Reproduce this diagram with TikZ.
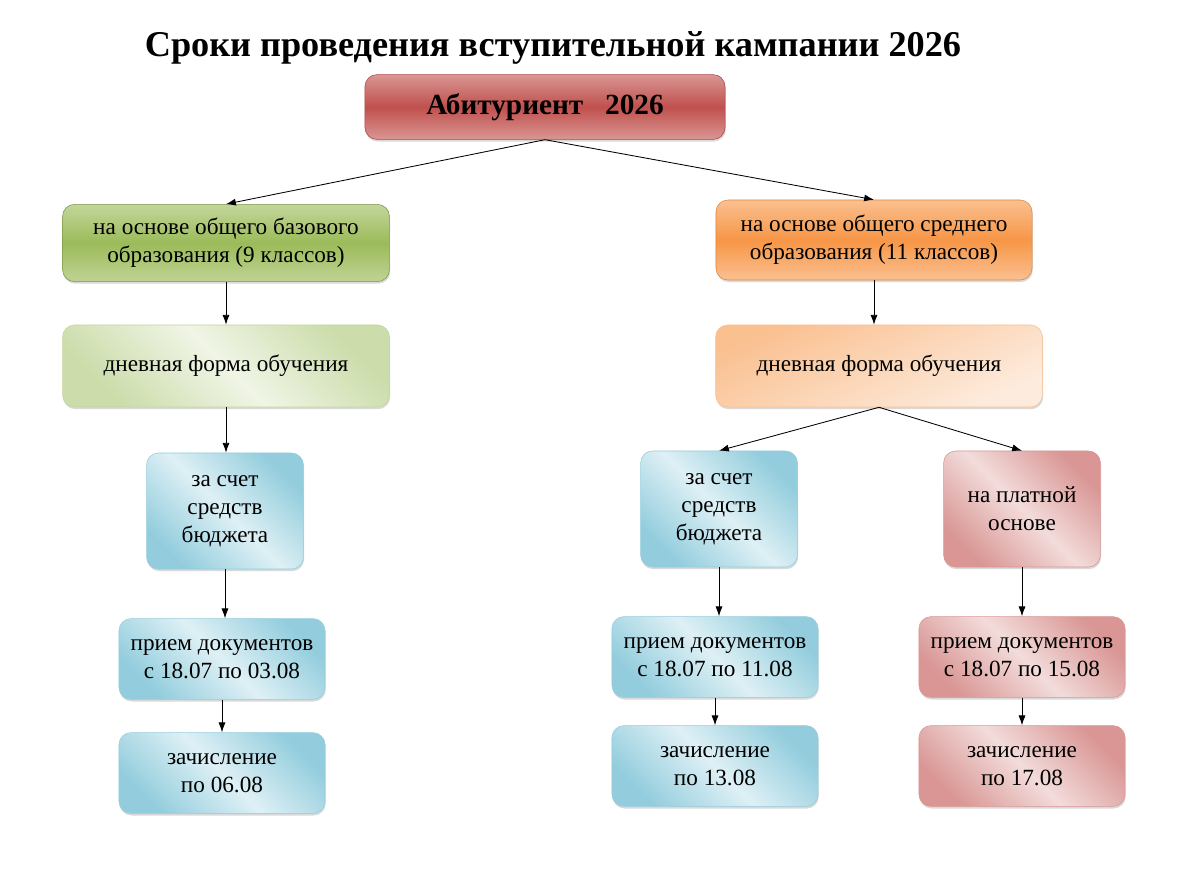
\documentclass[tikz,border=0pt]{standalone}
\usepackage{fontspec}
\setmainfont{Liberation Serif}
\usetikzlibrary{arrows.meta,shadows}
\definecolor{bordeaux}{RGB}{192, 80, 77}
\definecolor{rosewood}{RGB}{217, 150, 148}
\definecolor{blush}{RGB}{242, 220, 219}
\definecolor{olive}{RGB}{155, 187, 89}
\definecolor{pistachio}{RGB}{195, 214, 155}
\definecolor{mint}{RGB}{240, 245, 230}
\definecolor{tangerine}{RGB}{247, 150, 70}
\definecolor{apricot}{RGB}{250, 192, 144}
\definecolor{peach}{RGB}{253, 236, 222}
\definecolor{skyblue}{RGB}{147, 205, 221}
\definecolor{iceblue}{RGB}{222, 240, 245}

\tikzset{
  box/.style      = {rounded corners=0.3cm, align=center, font=\fontsize{16.5}{20}\selectfont,
                     drop shadow={shadow xshift=0.5pt, shadow yshift=-1.5pt, opacity=0.3}},
  headbox/.style  = {box, draw=bordeaux!90!black, top color=rosewood, bottom color=rosewood,
                     middle color=bordeaux, minimum width=9cm, minimum height=1.62cm,
                     font=\fontsize{20.8}{24}\selectfont\bfseries},
  basebox/.style  = {box, draw=olive!80!black, top color=pistachio, bottom color=pistachio!90!olive,
                     middle color=olive, minimum width=8.17cm, minimum height=1.93cm},
  midbox/.style   = {box, draw=tangerine!90!black, top color=apricot, bottom color=apricot,
                     middle color=tangerine, minimum width=7.9cm, minimum height=2cm},
  dayleft/.style  = {box, draw=pistachio, top color=pistachio!85!white,
                     bottom color=pistachio!85!white, middle color=mint, shading angle=-45,
                     minimum width=8.17cm, minimum height=2.05cm},
  dayright/.style = {box, draw=apricot, top color=apricot, bottom color=peach,
                     shading angle=25, minimum width=8.17cm, minimum height=2.05cm},
  budget/.style   = {box, draw=skyblue, top color=skyblue, bottom color=skyblue,
                     middle color=iceblue, shading angle=-45},
  paid/.style     = {box, draw=rosewood, top color=rosewood, bottom color=rosewood,
                     middle color=blush, shading angle=-45},
  tall/.style     = {minimum width=3.92cm, minimum height=2.9cm},
  wide/.style     = {minimum width=5.15cm, minimum height=2.02cm},
  link/.style     = {-{Latex[length=7pt,width=5pt]}, line width=0.6pt}
}

\begin{document}
\begin{tikzpicture}[x=0.025cm, y=-0.025cm]
  \useasboundingbox (0,0) rectangle (1190,883);
  \node (title) at (553, 48) {\fontsize{25.8}{30}\selectfont\bfseries Сроки проведения вступительной кампании 2026};

  \node[headbox]        (abit)    at ( 545,107) {Абитуриент\ \ \ 2026};
  \node[basebox]        (base9)   at ( 226,243) {на основе общего базового\\образования (9 классов)};
  \node[midbox]         (mid11)   at ( 874,240) {на основе общего среднего\\образования (11 классов)};
  \node[dayleft]        (dayL)    at ( 226,366) {дневная форма обучения};
  \node[dayright]       (dayR)    at ( 879,366) {дневная форма обучения};
  \node[budget, tall]   (budL)    at ( 225,511) {за счет\\средств\\бюджета};
  \node[budget, tall]   (budR)    at ( 719,509) {за счет\\средств\\бюджета};
  \node[paid, tall]     (paidR)   at (1022,509) {на платной\\основе};
  \node[budget, wide]   (docsL)   at ( 222,659) {прием документов\\с 18.07 по 03.08};
  \node[budget, wide]   (enrolL)  at ( 222,773) {зачисление\\по 06.08};
  \node[budget, wide]   (docsM)   at ( 715,657) {прием документов\\с 18.07 по 11.08};
  \node[budget, wide]   (enrolM)  at ( 715,766) {зачисление\\по 13.08};
  \node[paid, wide]     (docsR)   at (1022,657) {прием документов\\с 18.07 по 15.08};
  \node[paid, wide]     (enrolR)  at (1022,766) {зачисление\\по 17.08};

  % arrows
  \draw[link] (abit.south)  -- (base9.north);
  \draw[link] (abit.south)  -- (mid11.north);
  \draw[link] (base9.south) -- (dayL.north);
  \draw[link] (mid11.south) -- (mid11.south |- dayR.north);
  \draw[link] (dayL.south)  -- (dayL.south |- budL.north);
  \draw[link] (dayR.south)  -- (budR.north);
  \draw[link] (dayR.south)  -- (paidR.north);
  \draw[link] (budL.south)  -- (budL.south |- docsL.north);
  \draw[link] (docsL.south) -- (enrolL.north);
  \draw[link] (budR.south)  -- (budR.south |- docsM.north);
  \draw[link] (docsM.south) -- (enrolM.north);
  \draw[link] (paidR.south) -- (docsR.north);
  \draw[link] (docsR.south) -- (enrolR.north);
\end{tikzpicture}
\end{document}
